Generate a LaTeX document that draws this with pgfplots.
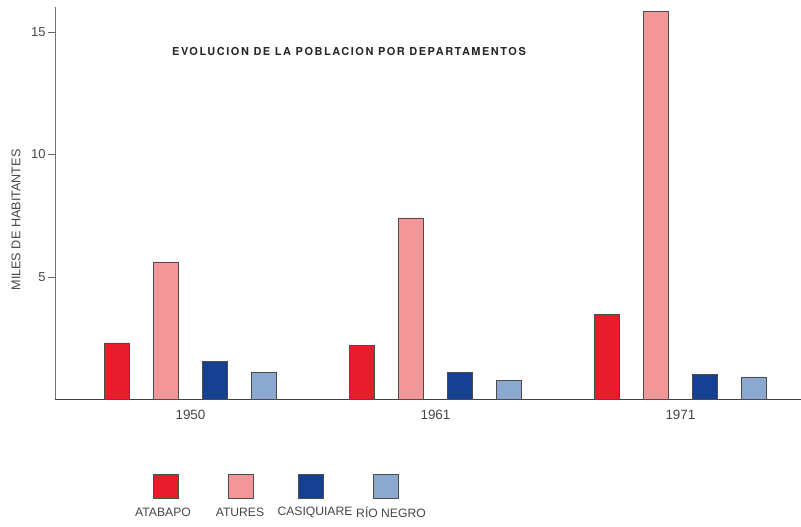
\documentclass[border=0pt]{standalone}
\usepackage{pgfplots}
\pgfplotsset{compat=1.18}
\usepackage{fontspec}
\setmainfont{Liberation Sans}
\newfontfamily\titlefont[LetterSpace=14]{TeX Gyre Heros}
\definecolor{cAtabapo}{RGB}{232,28,42}
\definecolor{cAtures}{RGB}{242,150,152}
\definecolor{cCasiq}{RGB}{22,64,145}
\definecolor{cRio}{RGB}{138,168,208}
\definecolor{txt}{RGB}{70,70,70}
\begin{document}
\begin{tikzpicture}[x=1bp,y=1bp]
\path[use as bounding box] (0,0) rectangle (801,527);
\begin{axis}[
  at={(55bp,128bp)}, anchor=south west,
  scale only axis, width=746bp, height=391.5bp,
  xmin=-0.553, xmax=2.492, ymin=0, ymax=16,
  axis x line=bottom, axis y line=left,
  axis line style={-},
  x axis line style={draw=black!75},
  y axis line style={draw=black!55},
  ytick={5,10,15}, yticklabel style={font=\fontsize{13}{15}\selectfont, text=txt, xshift=1bp},
  ytick style={draw=black!60}, tick align=outside, major tick length=7bp,
  xtick={0,1,2}, xticklabels={1950,1961,1971},
  xtick style={draw=none},
  xticklabel style={font=\fontsize{13.5}{15}\selectfont, text=txt, yshift=-1bp},
  /pgf/number format/assume math mode=true,
  ybar, bar width=25bp, bar shift=0pt,
  every axis plot/.append style={draw=black!70, line width=0.6pt},
  clip=false,
]
\addplot[fill=cAtabapo] coordinates {(-0.3,2.29) (0.7,2.2) (1.7,3.47)};
\addplot[fill=cAtures] coordinates {(-0.1,5.6) (0.9,7.4) (1.9,15.85)};
\addplot[fill=cCasiq] coordinates {(0.1,1.55) (1.1,1.1) (2.1,1.0)};
\addplot[fill=cRio] coordinates {(0.3,1.1) (1.3,0.75) (2.3,0.9)};
\end{axis}
\node[font=\titlefont\bfseries\fontsize{11}{13}\selectfont, text=black!85] at (349,475) {EVOLUCION DE LA POBLACION POR DEPARTAMENTOS};
\node[rotate=90, font=\fontsize{12.7}{15}\selectfont, text=txt] at (16,307) {MILES DE HABITANTES};
\foreach \xx/\cc/\lab/\lx in {153/cAtabapo/ATABAPO/163, 228/cAtures/ATURES/240, 298/cCasiq/CASIQUIARE/315, 373/cRio/RÍO NEGRO/391}{
  \draw[fill=\cc, draw=black!70, line width=0.6pt] (\xx,29) rectangle ++(25,24);
  \node[font=\fontsize{12.2}{15}\selectfont, text=txt] at (\lx,15) {\lab};
}
\end{tikzpicture}
\end{document}
